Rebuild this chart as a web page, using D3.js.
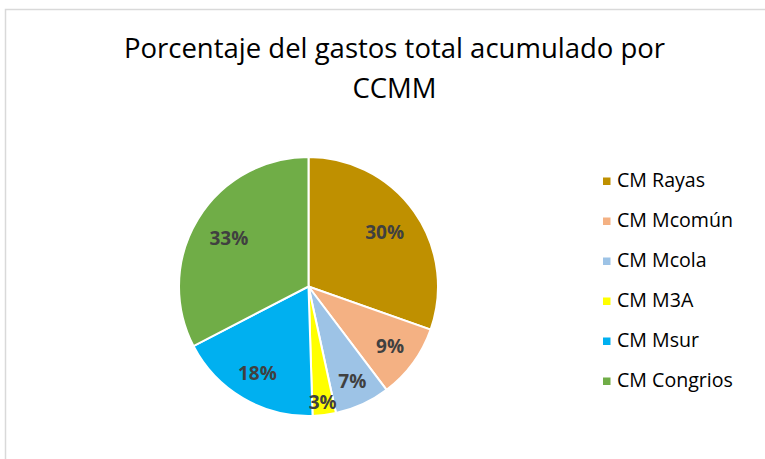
<!DOCTYPE html>
<html>
<head>
<meta charset="utf-8">
<script src="https://cdn.jsdelivr.net/npm/d3@7"></script>
<style>
  body { margin: 0; background: #fff; }
  text { font-family: "Open Sans", "Noto Sans", sans-serif; }
</style>
</head>
<body>
<div id="chart"></div>
<script>
// data
var categories = ["CM Rayas", "CM Mcomún", "CM Mcola", "CM M3A", "CM Msur", "CM Congrios"];
var shares = [30.4, 9.3, 6.9, 2.9, 17.9, 32.6];
var colors = ["#BF9000", "#F4B183", "#9DC3E6", "#FFFF00", "#00B0F0", "#70AD47"];
var titleLines = ["Porcentaje del gastos total acumulado por", "CCMM"];

var width = 765, height = 459;
var cx = 308.5, cy = 286.5, radius = 129.5;

var svg = d3.select("#chart").append("svg")
  .attr("width", width)
  .attr("height", height);

// chart area border (only top and left are visible in the picture)
svg.append("rect")
  .attr("x", 5.5).attr("y", 9.5)
  .attr("width", width + 10).attr("height", height + 10)
  .attr("fill", "#fff")
  .attr("stroke", "#d9d9d9")
  .attr("stroke-width", 1.5);

svg.selectAll("text.title")
  .data(titleLines)
  .enter().append("text")
  .attr("class", "title")
  .attr("x", 394.5)
  .attr("y", function(d, i) { return 57.5 + i * 40.5; })
  .attr("text-anchor", "middle")
  .attr("font-size", 27.5)
  .attr("fill", "#000")
  .text(function(d) { return d; });

var data = categories.map(function(c, i) { return { name: c, value: shares[i], color: colors[i] }; });
var total = d3.sum(shares);

var pie = d3.pie().sort(null).value(function(d) { return d.value; });
var arc = d3.arc().innerRadius(0).outerRadius(radius);

var g = svg.append("g").attr("transform", "translate(" + cx + "," + cy + ")");

var arcs = pie(data);

g.selectAll("path")
  .data(arcs)
  .enter().append("path")
  .attr("d", arc)
  .attr("fill", function(d) { return d.data.color; })
  .attr("stroke", "#fff")
  .attr("stroke-width", 2);

// labels sit further out on the narrow slices, like excel's best fit
function labelFactor(p) {
  if (p < 5) return 0.9;
  if (p < 8) return 0.81;
  if (p < 25) return 0.78;
  return 0.72;
}

g.selectAll("text.pct")
  .data(arcs)
  .enter().append("text")
  .attr("class", "pct")
  .attr("transform", function(d) {
    var p = d.data.value / total * 100;
    var r = radius * labelFactor(p);
    var a = (d.startAngle + d.endAngle) / 2;
    return "translate(" + (r * Math.sin(a)) + "," + (-r * Math.cos(a)) + ")";
  })
  .attr("text-anchor", "middle")
  .attr("dy", "0.35em")
  .attr("font-size", 19)
  .attr("font-weight", "bold")
  .attr("fill", "#404040")
  .text(function(d) { return d3.format(".0f")(d.data.value / total * 100) + "%"; });

// legend
var legend = svg.append("g").attr("transform", "translate(603,181)");
var rowH = 40;

var rows = legend.selectAll("g")
  .data(data)
  .enter().append("g")
  .attr("transform", function(d, i) { return "translate(0," + (i * rowH) + ")"; });

rows.append("rect")
  .attr("x", 0).attr("y", -3.5)
  .attr("width", 7.5).attr("height", 7.5)
  .attr("fill", function(d) { return d.color; });

rows.append("text")
  .attr("x", 14)
  .attr("dy", "0.3em")
  .attr("font-size", 19.6)
  .attr("fill", "#000")
  .text(function(d) { return d.name; });
</script>
</body>
</html>
